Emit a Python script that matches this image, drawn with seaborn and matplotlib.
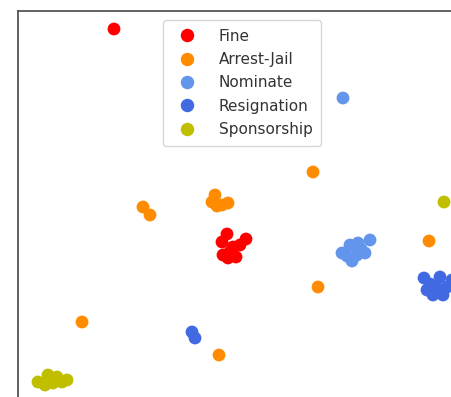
import matplotlib
matplotlib.use("Agg")
import matplotlib.pyplot as plt
import numpy as np
import pandas as pd
import seaborn as sns

# Embedding coordinates per event category
fine_x = [9.6, 20.9, 22.8, 20.4, 21.5, 22.2, 20.5, 21.8, 21.0, 21.2]
fine_y = [38.1, 17.6, 17.1, 16.8, 16.3, 16.5, 15.5, 15.3, 15.2, 15.8]

arrest_x = [29.5, 19.7, 19.4, 19.9, 21.0, 20.4, 12.5, 13.2, 41.1, 30.0, 6.4, 20.1]
arrest_y = [23.8, 21.5, 20.8, 20.4, 20.7, 20.5, 20.3, 19.5, 16.9, 12.3, 8.8, 5.5]

nominate_x = [32.5, 35.2, 32.4, 33.2, 34.0, 34.7, 33.4, 32.9, 33.9, 34.3]
nominate_y = [31.2, 17.0, 15.7, 16.5, 16.7, 15.7, 14.9, 15.4, 15.5, 16.1]

resign_x = [17.4, 17.7, 40.6, 42.2, 41.2, 40.9, 41.5, 42.9, 42.5, 43.4, 41.9]
resign_y = [7.8, 7.2, 13.2, 13.3, 12.6, 12.0, 11.5, 12.3, 11.5, 13.0, 12.2]

sponsor_x = [42.6, 3.0, 2.0, 2.7, 3.5, 4.4, 4.9, 3.9]
sponsor_y = [20.8, 3.5, 2.8, 2.5, 2.7, 2.8, 3.0, 3.3]

categories = ["Fine", "Arrest-Jail", "Nominate", "Resignation", "Sponsorship"]
colors = ["red", "darkorange", "cornflowerblue", "royalblue", "y"]

xs = [fine_x, arrest_x, nominate_x, resign_x, sponsor_x]
ys = [fine_y, arrest_y, nominate_y, resign_y, sponsor_y]

frames = [pd.DataFrame({"x": x, "y": y, "event": c}) for x, y, c in zip(xs, ys, categories)]
df = pd.concat(frames, ignore_index=True)

sns.set_style("white")
fig = plt.figure(figsize=(4.52, 3.97), dpi=100)
W, H = 452, 397
# axes extend past the right and bottom edges of the figure
ax = fig.add_axes([18 / W, (397 - 410) / H, 452 / W, 399 / H])

sns.scatterplot(data=df, x="x", y="y", hue="event", hue_order=categories,
                palette=dict(zip(categories, colors)), s=85, linewidth=0, ax=ax)

ax.set_xlim(0, 45.2)
ax.set_ylim(0, 39.9)
ax.set_xticks([])
ax.set_yticks([])
ax.set_xlabel("")
ax.set_ylabel("")
for side in ["top", "left", "right", "bottom"]:
    ax.spines[side].set_color("#555555")
    ax.spines[side].set_linewidth(1.3)

sns.move_legend(ax, "upper left", bbox_to_anchor=(0.321, 0.977), borderaxespad=0,
                title=None, frameon=True, fontsize=11, handletextpad=1.1,
                labelspacing=0.55, borderpad=0.55, markerscale=1.05)
for t in ax.get_legend().get_texts():
    t.set_color("#333333")

fig.savefig("out.png", dpi=100)
